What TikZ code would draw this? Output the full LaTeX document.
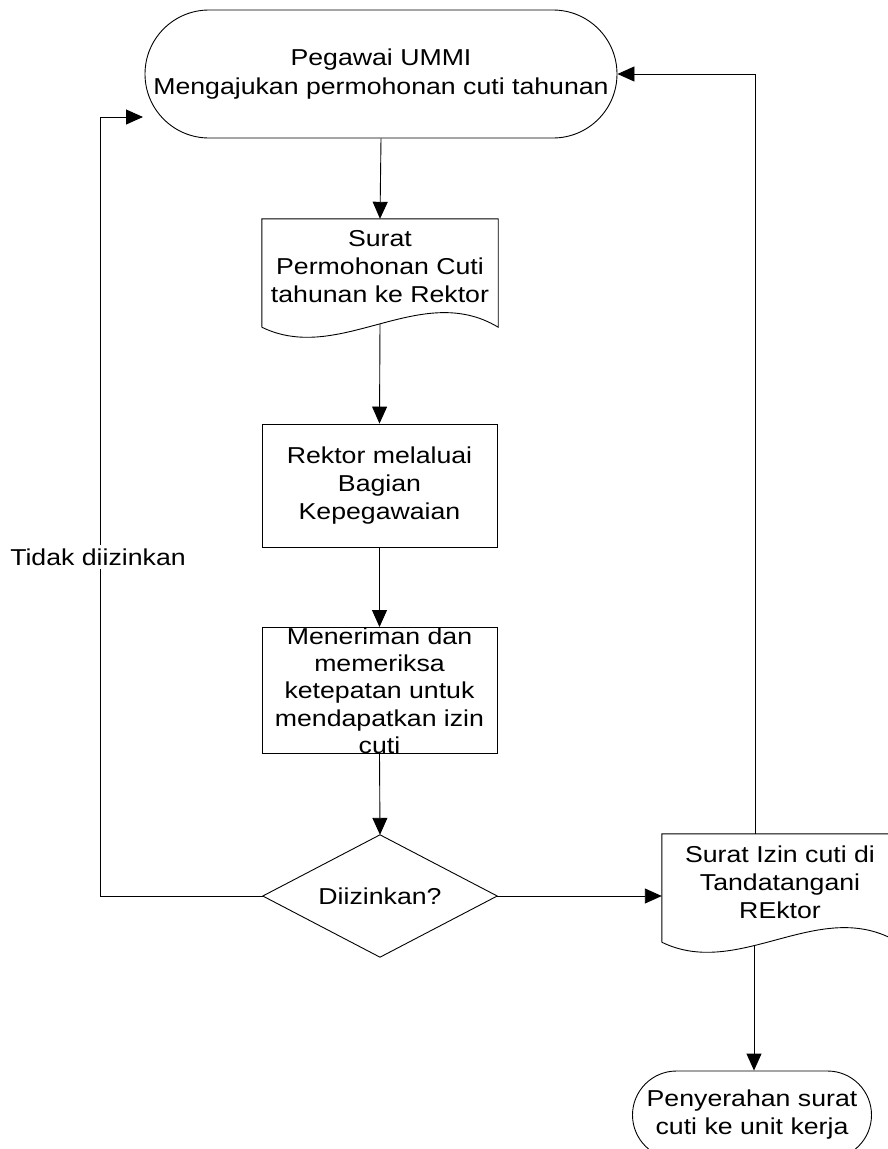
\documentclass[tikz,border=0pt]{standalone}
\usepackage{fontspec}
\setmainfont{Liberation Sans}[FakeStretch=1.16]
\usetikzlibrary{arrows.meta,shapes.misc}

% outline of a document symbol drawn round an empty frame node
\newcommand{\docoutline}[1]{%
  \draw[shapeline] (#1.south west) -- (#1.north west) -- (#1.north east) -- (#1.south east)
    .. controls ([shift={(-78,-47)}]#1.south east) and ([shift={(78,38)}]#1.south west) .. (#1.south west);}

\begin{document}
\begin{tikzpicture}[x=1pt,y=-1pt,
  txt/.style={font=\fontsize{23pt}{28pt}\selectfont, align=center, inner sep=0pt},
  shapeline/.style={draw=black, line width=0.9pt},
  flow/.style={draw=black, line width=0.9pt, -{Triangle[length=17pt,width=15pt]}},
  terminal/.style={txt, shapeline, rounded rectangle},
  process/.style={txt, shapeline, rectangle, minimum width=235pt, minimum height=123pt},
  docframe/.style={inner sep=0pt, minimum width=236pt, minimum height=108pt},
  decisionframe/.style={txt, minimum width=234pt, minimum height=122pt},
  edgelabel/.style={txt, fill=white, inner xsep=1pt, inner ysep=4pt}
]
\useasboundingbox (0,0) rectangle (888,1149);
\fill[white] (0,0) rectangle (888,1149);
\clip (0,0) rectangle (888,1149);

% start
\node[terminal, minimum width=472pt, minimum height=128pt,
      font=\fontsize{23pt}{29.5pt}\selectfont] (start) at (381,74)
  {Pegawai UMMI\\Mengajukan permohonan cuti tahunan};

% request letter
\node[docframe] (req) at (380,273) {};
\docoutline{req}
\node[txt] (reqtext) at (380,267) {Surat\\Permohonan Cuti\\tahunan ke Rektor};
\coordinate (reqout) at ([shift={(0,-3.4)}]req.south);

% processing
\node[process] (rektor) at (379.5,485.5) {Rektor melaluai\\Bagian\\Kepegawaian};
\node[process, font=\fontsize{23pt}{27.3pt}\selectfont] (check) at (379.5,690.5)
  {Meneriman dan\\memeriksa\\ketepatan untuk\\mendapatkan izin\\cuti};

% decision
\node[decisionframe] (dec) at (380,896) {Diizinkan?};
\draw[shapeline] (dec.north) -- (dec.east) -- (dec.south) -- (dec.west) -- cycle;

% signed permit
\node[docframe] (permit) at (780,888) {};
\docoutline{permit}
\node[txt] (permittext) at (780,882) {Surat Izin cuti di\\Tandatangani\\REktor};
\coordinate (permitout) at ([shift={(-26,3.5)}]permit.south);

% end
\node[terminal, minimum width=239pt, minimum height=88pt] (finish) at (752,1115)
  {Penyerahan surat\\cuti ke unit kerja};

% main flow
\draw[flow] (start.south) -- (req.north);
\draw[flow] (reqout) -- (rektor.north);
\draw[flow] (rektor.south) -- (check.north);
\draw[flow] (check.south) -- (dec.north);
\draw[flow] (dec.east) -- (dec.east -| permit.west);
\draw[flow] (permitout) -- (permitout |- finish.north);

% loop back when refused
\coordinate (nocorner) at (100,117);
\coordinate (noend) at (143,117);
\draw[flow] (dec.west) -| (nocorner) -- (noend);
\node[edgelabel] (nolabel) at (98,557) {Tidak diizinkan};

% return to the applicant after signing
\coordinate (yescorner) at (755,74);
\draw[flow] (permit.north -| yescorner) -- (yescorner) -- (start.east);
\end{tikzpicture}
\end{document}
